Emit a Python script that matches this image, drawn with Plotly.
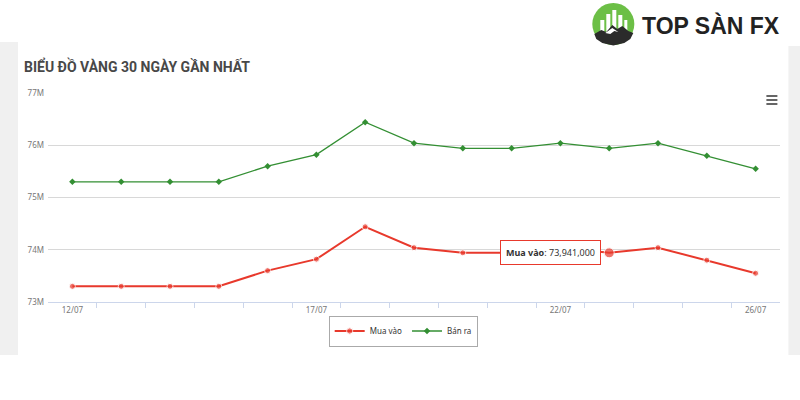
import plotly.graph_objects as go

# ---- data ----
dates = ["12/07", "13/07", "14/07", "15/07", "16/07", "17/07", "18/07", "19/07",
         "20/07", "21/07", "22/07", "23/07", "24/07", "25/07", "26/07"]
mua_vao = [73300000, 73300000, 73300000, 73300000, 73600000, 73820000, 74440000, 74040000,
           73941000, 73941000, 74040000, 73941000, 74040000, 73800000, 73550000]
ban_ra = [75300000, 75300000, 75300000, 75300000, 75600000, 75820000, 76440000, 76040000,
          75941000, 75941000, 76040000, 75941000, 76040000, 75800000, 75550000]
label_dates = ["12/07", "17/07", "22/07", "26/07"]
y_ticks = [73000000, 74000000, 75000000, 76000000, 77000000]
y_tick_text = ["73M", "74M", "75M", "76M", "77M"]
hover_index = 11
title_text = "BIỂU ĐỒ VÀNG 30 NGÀY GẦN NHẤT"

W, H = 800, 400
L, R, T, B = 48, 20.4, 93, 98
pw, ph = W - L - R, H - T - B

def px(x):
    return (x - L) / pw

def py(y):
    return (H - B - y) / ph

xs = list(range(len(dates)))
RED = "#e8392c"
GREEN = "#338f33"

fig = go.Figure()
fig.add_trace(go.Scatter(
    x=xs, y=mua_vao, name="Mua vào", mode="lines+markers",
    line=dict(color=RED, width=2),
    marker=dict(symbol="circle", color=RED,
                size=[10 if i == hover_index else 6 for i in xs]),
))
fig.add_trace(go.Scatter(
    x=xs, y=ban_ra, name="Bán ra", mode="lines+markers",
    line=dict(color=GREEN, width=1.3),
    marker=dict(symbol="diamond", color=GREEN, size=5),
))

shapes = []
# gray side bands
shapes.append(dict(type="rect", xref="paper", yref="paper", layer="below",
                   x0=px(0), x1=px(18), y0=py(355), y1=py(42),
                   fillcolor="#f0f0f0", line=dict(width=0)))
shapes.append(dict(type="rect", xref="paper", yref="paper", layer="below",
                   x0=px(788), x1=px(800), y0=py(355), y1=py(46),
                   fillcolor="#f0f0f0", line=dict(width=0)))
# hamburger menu
for yy in (96, 100, 104):
    shapes.append(dict(type="line", xref="paper", yref="paper",
                       x0=px(766), x1=px(777), y0=py(yy), y1=py(yy),
                       line=dict(color="#666666", width=2)))

# logo
def path(points):
    s = "M " + " L ".join(f"{px(a):.5f},{py(b):.5f}" for a, b in points) + " Z"
    return s

shapes.append(dict(type="circle", xref="paper", yref="paper",
                   x0=px(592), x1=px(634), y0=py(45), y1=py(3),
                   fillcolor="#6cbf46", line=dict(width=0)))
for bx0, bx1, by in ((600, 604, 20), (606, 610, 14), (612, 616, 10), (618, 622, 15), (624, 627, 20)):
    shapes.append(dict(type="rect", xref="paper", yref="paper",
                       x0=px(bx0), x1=px(bx1), y0=py(32), y1=py(by),
                       fillcolor="#ffffff", line=dict(width=0)))
shapes.append(dict(type="path", xref="paper", yref="paper",
                   path=path([(594, 34), (601, 30), (606, 32), (612, 25), (617, 29), (622, 26),
                              (628, 31), (633, 33), (630, 39), (624, 43), (613, 45.5),
                              (602, 43), (596, 39)]),
                   fillcolor="#2b2b2b", line=dict(width=0)))
shapes.append(dict(type="path", xref="paper", yref="paper",
                   path=path([(605, 33), (612, 28), (618, 32), (614, 31), (610, 34)]),
                   fillcolor="#ffffff", line=dict(width=0)))

annotations = [
    dict(xref="paper", yref="paper", x=px(22), y=py(66), xanchor="left", yanchor="middle",
         text=f"<b>{title_text}</b>", showarrow=False,
         font=dict(family="Roboto", size=14, color="#484848")),
    dict(xref="paper", yref="paper", x=px(640), y=py(25), xanchor="left", yanchor="middle",
         text="<b>TOP SÀN FX</b>", showarrow=False,
         font=dict(family="Liberation Sans", size=23, color="#222222")),
    dict(xref="x", yref="y", x=xs[hover_index], y=mua_vao[hover_index],
         xanchor="right", yanchor="middle", xshift=-8, showarrow=False,
         text=f"<b>{'Mua vào'}</b>: {mua_vao[hover_index]:,}",
         font=dict(family="Noto Sans", size=9, color="#333333"),
         bgcolor="#ffffff", bordercolor=RED, borderwidth=1, borderpad=5),
]

fig.update_layout(
    width=W, height=H,
    margin=dict(l=L, r=R, t=T, b=B),
    paper_bgcolor="#ffffff", plot_bgcolor="#ffffff",
    font=dict(family="Noto Sans", size=8, color="#666666"),
    showlegend=True,
    legend=dict(orientation="h", x=px(403), y=py(331), xanchor="center", yanchor="middle",
                bordercolor="#aaaaaa", borderwidth=1, bgcolor="#ffffff",
                font=dict(size=8, color="#333333"), itemwidth=30,
                tracegroupgap=0),
    shapes=shapes,
    annotations=annotations,
    xaxis=dict(
        range=[-0.5, len(dates) - 0.5],
        tickvals=[dates.index(d) for d in label_dates], ticktext=label_dates,
        ticks="", showgrid=False, zeroline=False,
        showline=True, linecolor="#ccd6eb", linewidth=1,
        tickfont=dict(size=8, color="#777777"),
        minor=dict(tickvals=[i + 0.5 for i in xs[:-1]], ticks="outside", ticklen=5,
                   tickcolor="#ccd6eb", showgrid=False),
        fixedrange=True,
    ),
    yaxis=dict(
        range=[y_ticks[0], y_ticks[-1]],
        tickvals=y_ticks, ticktext=y_tick_text,
        showgrid=True, gridcolor="#d8d8d8", gridwidth=1, zeroline=False,
        ticks="", tickfont=dict(size=8, color="#777777"), ticklabelstandoff=3,
        fixedrange=True,
    ),
    hovermode=False,
)

fig.write_html("out.html", config={"displayModeBar": False},
               post_script="document.body.style.margin='0';document.body.style.overflow='hidden';")
